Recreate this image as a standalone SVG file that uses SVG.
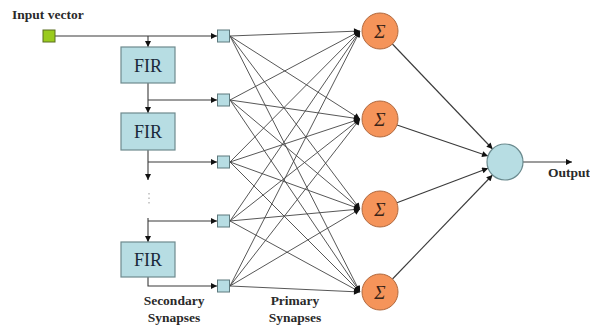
<svg xmlns="http://www.w3.org/2000/svg" width="590" height="331" viewBox="0 0 590 331">
<style>
.lbl{font-family:"Liberation Serif","Times New Roman",serif;font-size:13.5px;font-weight:bold;fill:#2a2a2a}
.fir{fill:#b7dde3;stroke:#6e8a8e;stroke-width:1.2}
.fir-t{font-family:"Liberation Serif","Times New Roman",serif;font-size:18px;fill:#1a2a3a;text-anchor:middle}
.syn{fill:#b7dde3;stroke:#5f7a7e;stroke-width:1}
.sum{fill:#f5945a;stroke:#b06a40;stroke-width:1}
.sig{font-family:"Liberation Serif","Times New Roman",serif;font-size:19px;font-style:italic;fill:#3a2418;text-anchor:middle}
.out{fill:#b7dde3;stroke:#6a8a8e;stroke-width:1.2}
.c{stroke:#333;stroke-width:1;fill:none}
.ca{stroke:#3a3a3a;stroke-width:1.1;fill:none;marker-end:url(#arr)}
.pa{stroke:#444;stroke-width:0.9;fill:none;marker-end:url(#arr)}
</style>
<defs>
<marker id="arr" viewBox="0 0 10 10" refX="10" refY="5" markerWidth="7" markerHeight="6" markerUnits="userSpaceOnUse" orient="auto">
<path d="M0,0 L10,5 L0,10 z" fill="#111"/>
</marker>
</defs>
<rect width="590" height="331" fill="#fff"/>
<g id="connectors">
<line class="ca" x1="55" y1="36" x2="217" y2="36"/>
<line class="ca" x1="148" y1="36" x2="148" y2="47"/>
<line class="ca" x1="148" y1="83" x2="148" y2="113"/>
<line class="ca" x1="148" y1="100" x2="217" y2="100"/>
<line class="ca" x1="148" y1="150" x2="148" y2="180"/>
<line class="ca" x1="148" y1="162" x2="217" y2="162"/>
<line stroke="#999" stroke-width="1" stroke-dasharray="1.5,3" x1="149" y1="193" x2="149" y2="206"/>
<line class="ca" x1="148" y1="218" x2="148" y2="242"/>
<line class="ca" x1="148" y1="221" x2="217" y2="221"/>
<polyline class="ca" points="148,277 148,286 217,286"/>
<g id="primary">
<line class="pa" x1="230" y1="36" x2="360" y2="31"/>
<line class="pa" x1="230" y1="36" x2="360" y2="119"/>
<line class="pa" x1="230" y1="36" x2="360" y2="209"/>
<line class="pa" x1="230" y1="36" x2="360" y2="292"/>
<line class="pa" x1="230" y1="100" x2="360" y2="31"/>
<line class="pa" x1="230" y1="100" x2="360" y2="119"/>
<line class="pa" x1="230" y1="100" x2="360" y2="209"/>
<line class="pa" x1="230" y1="100" x2="360" y2="292"/>
<line class="pa" x1="230" y1="162" x2="360" y2="31"/>
<line class="pa" x1="230" y1="162" x2="360" y2="119"/>
<line class="pa" x1="230" y1="162" x2="360" y2="209"/>
<line class="pa" x1="230" y1="162" x2="360" y2="292"/>
<line class="pa" x1="230" y1="221" x2="360" y2="31"/>
<line class="pa" x1="230" y1="221" x2="360" y2="119"/>
<line class="pa" x1="230" y1="221" x2="360" y2="209"/>
<line class="pa" x1="230" y1="221" x2="360" y2="292"/>
<line class="pa" x1="230" y1="286" x2="360" y2="31"/>
<line class="pa" x1="230" y1="286" x2="360" y2="119"/>
<line class="pa" x1="230" y1="286" x2="360" y2="209"/>
<line class="pa" x1="230" y1="286" x2="360" y2="292"/>
</g>
<line class="ca" x1="392.4" y1="44" x2="492.6" y2="149"/>
<line class="ca" x1="397" y1="124.9" x2="488" y2="156.1"/>
<line class="ca" x1="396.9" y1="202.7" x2="488.1" y2="168.3"/>
<line class="ca" x1="392.5" y1="279" x2="492.5" y2="175"/>
<line class="ca" x1="523" y1="162" x2="572" y2="162"/>
</g>
<g id="input">
<rect x="43" y="30" width="12" height="12" fill="#9acb1e" stroke="#5a6e20" stroke-width="1"/>
<text class="lbl" x="12" y="19">Input vector</text>
</g>
<g id="fir1"><rect class="fir" x="121" y="47" width="54" height="36"/><text class="fir-t" x="148" y="71.5">FIR</text></g>
<g id="fir2"><rect class="fir" x="121" y="113" width="54" height="37"/><text class="fir-t" x="148" y="138">FIR</text></g>
<g id="fir3"><rect class="fir" x="121" y="242" width="54" height="35"/><text class="fir-t" x="148" y="266">FIR</text></g>
<g id="syn1"><rect class="syn" x="217.5" y="30" width="12" height="12"/></g>
<g id="syn2"><rect class="syn" x="217.5" y="94" width="12" height="12"/></g>
<g id="syn3"><rect class="syn" x="217.5" y="156" width="12" height="12"/></g>
<g id="syn4"><rect class="syn" x="217.5" y="215" width="12" height="12"/></g>
<g id="syn5"><rect class="syn" x="217.5" y="280" width="12" height="12"/></g>
<g id="sum1"><circle class="sum" cx="380" cy="31" r="18"/><text class="sig" x="380" y="37.5">Σ</text></g>
<g id="sum2"><circle class="sum" cx="380" cy="119" r="18"/><text class="sig" x="380" y="125.5">Σ</text></g>
<g id="sum3"><circle class="sum" cx="380" cy="209" r="18"/><text class="sig" x="380" y="215.5">Σ</text></g>
<g id="sum4"><circle class="sum" cx="380" cy="292" r="18"/><text class="sig" x="380" y="298.5">Σ</text></g>
<g id="output"><circle class="out" cx="505" cy="162" r="18"/><text class="lbl" x="548" y="177">Output</text></g>
<g id="labels">
<text class="lbl" x="174" y="305" text-anchor="middle">Secondary</text>
<text class="lbl" x="174" y="322" text-anchor="middle">Synapses</text>
<text class="lbl" x="295" y="305" text-anchor="middle">Primary</text>
<text class="lbl" x="295" y="322" text-anchor="middle">Synapses</text>
</g>
</svg>
